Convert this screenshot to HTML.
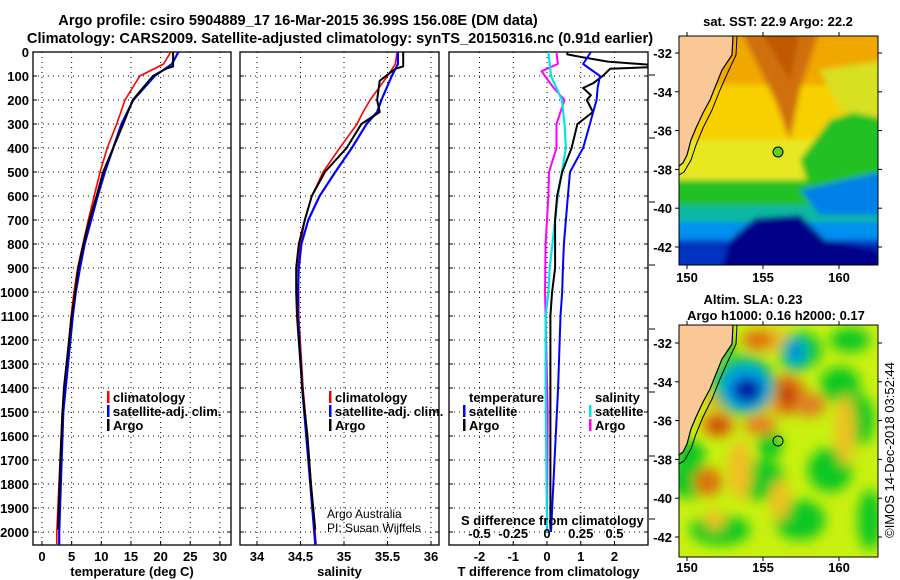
<!DOCTYPE html>
<html><head><meta charset="utf-8">
<style>
html,body{margin:0;padding:0;background:#fff;}
svg{display:block;font-family:"Liberation Sans",Arial,sans-serif;}
.b{font-weight:bold;font-size:13px;}
</style></head>
<body>
<svg id="chart" width="900" height="580" viewBox="0 0 900 580">
<defs>
<filter id="blur3" x="-10%" y="-10%" width="120%" height="120%"><feGaussianBlur stdDeviation="3"/></filter>
<filter id="blur6" x="-20%" y="-20%" width="140%" height="140%"><feGaussianBlur stdDeviation="6"/></filter>
<clipPath id="cp1"><rect x="33" y="52" width="198" height="493"/></clipPath>
<clipPath id="cp2"><rect x="240" y="52" width="199" height="493"/></clipPath>
<clipPath id="cp3"><rect x="449" y="52" width="199" height="493"/></clipPath>
<clipPath id="cm1"><rect x="679" y="36" width="199" height="229"/></clipPath>
<clipPath id="cm2"><rect x="679" y="325" width="199" height="232"/></clipPath>
</defs>
<text x="298" y="25" text-anchor="middle" class="b" style="font-size:14.6px">Argo profile: csiro 5904889_17 16-Mar-2015 36.99S 156.08E (DM data)</text>
<text x="340" y="43" text-anchor="middle" class="b" style="font-size:14.6px">Climatology: CARS2009. Satellite-adjusted climatology: synTS_20150316.nc (0.91d earlier)</text>
<g id="panels"></g>
<g id="maps"></g>
</svg>
<script>
// ---- data ----
const depthTicks = [0,100,200,300,400,500,600,700,800,900,1000,1100,1200,1300,1400,1500,1600,1700,1800,1900,2000];
const tTicks = [0,5,10,15,20,25,30];
const sTicks = [34,34.5,35,35.5,36];
const dTTicks = [-2,-1,0,1,2];
const dSTicks = [-0.5,-0.25,0,0.25,0.5];
const dSTickLabels = ["-0.5","-0.25","0","0.25","0.5"];

const tempDepth = [0,50,100,200,300,400,500,600,700,800,900,1000,1100,1500,2000,2054];
const tempClim  = [21.7,20.5,16.5,14.0,12.6,11.0,9.8,8.8,7.8,6.9,6.0,5.4,4.9,3.4,2.5,2.5];
const tempSat   = [23.0,21.9,19.0,15.4,13.4,12.0,10.6,9.4,8.3,7.2,6.4,5.7,5.2,3.6,2.9,2.9];
const argoDepth = [0,60,70,100,200,300,400,500,600,700,800,900,1000,1100,1400,1500,1700,1990];
const tempArgo  = [22.1,22.1,20.9,18.7,15.3,13.7,12.0,10.3,9.2,8.0,7.0,6.1,5.6,5.0,3.7,3.45,3.1,2.7];

const salDepth = [0,50,100,200,250,300,400,500,600,700,800,900,1000,1100,1400,1700,2054];
const salClim  = [35.61,35.59,35.50,35.30,35.22,35.15,34.95,34.76,34.63,34.55,34.50,34.47,34.48,34.48,34.53,34.60,34.68];
const salSat   = [35.62,35.62,35.55,35.43,35.38,35.26,35.09,34.90,34.72,34.59,34.51,34.48,34.47,34.47,34.52,34.59,34.67];
const salArgoDepth = [0,60,70,120,200,250,300,400,500,600,700,800,900,1000,1100,1400,1600,1800,1990];
const salArgo  = [35.68,35.68,35.59,35.41,35.38,35.41,35.20,35.03,34.78,34.63,34.55,34.48,34.45,34.45,34.46,34.52,34.58,34.62,34.67];

const dTArgoDepth = [0,10,20,40,55,62,70,100,130,150,180,200,250,300,400,500,600,700,800,900,1000,1100,1500,1990];
const dTArgo = [0.6,0.6,0.98,1.8,3.2,3.2,1.87,1.65,1.37,1.07,1.3,1.18,1.36,0.9,0.73,0.45,0.3,0.24,0.24,0.24,0.15,0.1,0.1,0.1];
const dTSatDepth = [0,50,100,150,200,250,300,400,500,600,700,800,900,1000,1100,1400,2000];
const dTSat = [1.3,1.07,1.57,1.5,1.47,1.37,1.27,1.07,0.68,0.62,0.56,0.5,0.47,0.45,0.4,0.33,0.12];
const dSArgoDepth = [0,50,80,120,150,200,300,400,500,600,800,1000,1100,1500,1990];
const dSArgo = [0.07,0.08,-0.04,0.01,0.05,0.13,0.07,0.07,0.015,0.01,-0.01,-0.015,-0.01,0.005,0.0];
const dSSatDepth = [0,100,200,300,400,500,600,700,800,900,1000,1100,1400,2000];
const dSSat = [0.01,0.03,0.11,0.13,0.14,0.11,0.08,0.06,0.04,0.02,0.01,-0.01,-0.01,0.0];

const mapLonTicks = [150,155,160];
const mapLatTicks = [-32,-34,-36,-38,-40,-42];

// ---- scales ----
const Y0=52, Y1=545;
const yD = d => 52 + d*0.24;
const xT = t => 42 + t*5.93;
const xS = s => 257 + (s-34)*87;
const xDT = v => 547 + v*33.75;
const xDS = v => 547 + v*135;
const lonX = l => 687 + (l-150)*15.2;
const latY1 = la => 53 + (-32-la)*19.4;
const latY2 = la => 343 + (-32-la)*19.4;

const NS="http://www.w3.org/2000/svg";
function mk(tag, attrs, parent){const e=document.createElementNS(NS,tag);for(const k in attrs)e.setAttribute(k,attrs[k]);parent.appendChild(e);return e;}
const P=document.getElementById('panels');

function line(xs, ds, xf, color, w, parent, name){
  let d='';
  xs.forEach((v,i)=>{d+=(i?'L':'M')+xf(v).toFixed(1)+','+yD(ds[i]).toFixed(1);});
  const p=mk('path',{d:d,fill:'none',stroke:color,'stroke-width':w,'stroke-linejoin':'round'},parent);
  
  
}

function panel(x0,x1,clip,name,ticks,xf,labels,title){
  const g=mk('g',{},P);
  
  
  depthTicks.forEach(d=>{
    mk('line',{x1:x0,x2:x1,y1:yD(d),y2:yD(d),stroke:'#000','stroke-width':1,'stroke-dasharray':'1,4'},g);
    mk('line',{x1:x0,x2:x0+4,y1:yD(d),y2:yD(d),stroke:'#000'},g);
    mk('line',{x1:x1-4,x2:x1,y1:yD(d),y2:yD(d),stroke:'#000'},g);
  });
  ticks.forEach((t,i)=>{
    const x=xf(t);
    mk('line',{x1:x,x2:x,y1:Y0,y2:Y1,stroke:'#000','stroke-width':1,'stroke-dasharray':'1,4'},g);
    mk('line',{x1:x,x2:x,y1:Y1-4,y2:Y1,stroke:'#000'},g);
    const tx=mk('text',{x:x,y:561,'text-anchor':'middle',class:'b'},g);
    tx.textContent=labels?labels[i]:String(t);
    
    
  });
  mk('rect',{x:x0,y:Y0,width:x1-x0,height:Y1-Y0,fill:'none',stroke:'#000','stroke-width':1.3},g);
  const tt=mk('text',{x:(x0+x1)/2,y:576,'text-anchor':'middle',class:'b'},g);
  tt.textContent=title;
  
  
  const lg=mk('g',{'clip-path':'url(#'+clip+')'},g);
  return lg;
}
depthTicks.forEach(d=>{
  const t=mk('text',{x:29,y:yD(d)+5,'text-anchor':'end',class:'b'},P);
  t.textContent=String(d);
  
  
});

const g1=panel(33,231,'cp1','temperature-panel',tTicks,xT,null,'temperature (deg C)');
line(tempClim,tempDepth,xT,'#ff0000',1.6,g1,'temp-climatology-line');
line(tempSat,tempDepth,xT,'#0000ff',2.2,g1,'temp-satellite-line');
line(tempArgo,argoDepth,xT,'#000000',2,g1,'temp-argo-line');

const g2=panel(240,439,'cp2','salinity-panel',sTicks,xS,["34","34.5","35","35.5","36"],'salinity');
line(salClim,salDepth,xS,'#ff0000',1.6,g2,'sal-climatology-line');
line(salSat,salDepth,xS,'#0000ff',2.2,g2,'sal-satellite-line');
line(salArgo,salArgoDepth,xS,'#000000',2,g2,'sal-argo-line');

const g3=panel(449,648,'cp3','difference-panel',dTTicks,xDT,null,'T difference from climatology');
line(dSArgo,dSArgoDepth,xDS,'#ff00ff',2,g3,'sdiff-argo-line');
line(dSSat,dSSatDepth,xDS,'#00e5e5',2.2,g3,'sdiff-satellite-line');
line(dTArgo,dTArgoDepth,xDT,'#000000',2,g3,'tdiff-argo-line');
line(dTSat,dTSatDepth,xDT,'#0000ff',2,g3,'tdiff-satellite-line');
dSTicks.forEach((s,i)=>{
  const t=mk('text',{x:xDS(s),y:538,'text-anchor':'middle',class:'b'},P);
  t.textContent=dSTickLabels[i];
  
  
});
[75,138,202,265,329,392,456,519].forEach(y=>mk('line',{x1:649,x2:655,y1:y,y2:y,stroke:'#000'},P));

function legendEntry(x,y,color,label,name){
  const g=mk('g',{},P);
  
  
  if(color) mk('rect',{x:x-6,y:y-11,width:2.5,height:12,fill:color},g);
  const t=mk('text',{x:x,y:y,class:'b'},g);
  t.textContent=label;
}
legendEntry(113,402,'#ff0000','climatology','legend-temp-climatology');
legendEntry(113,416,'#0000ff','satellite-adj. clim.','legend-temp-satellite');
legendEntry(113,430,'#000000','Argo','legend-temp-argo');
legendEntry(335,402,'#ff0000','climatology','legend-sal-climatology');
legendEntry(335,416,'#0000ff','satellite-adj. clim.','legend-sal-satellite');
legendEntry(335,430,'#000000','Argo','legend-sal-argo');
legendEntry(469,402,null,'temperature','legend-temperature-header');
legendEntry(469,416,'#0000ff','satellite','legend-tdiff-satellite');
legendEntry(469,430,'#000000','Argo','legend-tdiff-argo');
legendEntry(595,402,null,'salinity','legend-salinity-header');
legendEntry(595,416,'#00e5e5','satellite','legend-sdiff-satellite');
legendEntry(595,430,'#ff00ff','Argo','legend-sdiff-argo');
</script>
<script>
const M=document.getElementById('maps');
let t=mk('text',{x:327,y:518,'font-size':'12px'},M);t.textContent='Argo Australia';


t=mk('text',{x:327,y:532,'font-size':'12px'},M);t.textContent='PI: Susan Wijffels';


t=mk('text',{x:461,y:525,class:'b'},M);t.textContent='S difference from climatology';



function landPath(dy){
  return `M679,${36+dy} L733,${36+dy} L732,${55+dy} L722,${70+dy} L716,${85+dy} L710,${100+dy} L703,${113+dy} L696,${128+dy} L691,${140+dy} L687,${155+dy} L683,${163+dy} L679,${166+dy} Z`;
}
function mapFrame(x0,y0,w,h,latY,name,labY){
  const g=mk('g',{},M);
  
  
  mapLonTicks.forEach(l=>{
    const x=lonX(l);
    mk('line',{x1:x,x2:x,y1:y0-4,y2:y0,stroke:'#000'},g);
    mk('line',{x1:x,x2:x,y1:y0+h,y2:y0+h+4,stroke:'#000'},g);
    const tx=mk('text',{x:x,y:labY,'text-anchor':'middle',class:'b'},g);tx.textContent=String(l);
    
    
  });
  mapLatTicks.forEach(la=>{
    const y=latY(la);
    mk('line',{x1:x0-4,x2:x0,y1:y,y2:y,stroke:'#000'},g);
    mk('line',{x1:x0+w,x2:x0+w+4,y1:y,y2:y,stroke:'#000'},g);
    const tx=mk('text',{x:672,y:y+5,'text-anchor':'end',class:'b'},g);tx.textContent=String(la);
    
    
  });
  mk('rect',{x:x0,y:y0,width:w,height:h,fill:'none',stroke:'#000','stroke-width':1},g);
}
const m1=mk('g',{'clip-path':'url(#cm1)'},M);


const b1=mk('g',{filter:'url(#blur3)'},m1);
[['#f0a800',20,85],['#f8d000',85,140],['#e8e820',140,180],['#20c020',180,205],['#10b8a0',205,222],['#0090f0',222,240],['#0030c0',240,275]].forEach(([c,a,b])=>mk('rect',{x:670,y:a,width:220,height:b-a,fill:c},b1));
mk('polygon',{points:'740,30 820,30 800,90 790,140 775,100',fill:'#d07010'},b1);
mk('polygon',{points:'760,30 800,30 790,80',fill:'#c05800'},b1);
mk('polygon',{points:'830,120 890,100 890,190 810,190 800,160',fill:'#20c020'},b1);
mk('polygon',{points:'820,70 890,60 890,120 840,110',fill:'#d8e020'},b1);
mk('polygon',{points:'720,275 730,240 755,218 800,215 825,240 880,250 880,275',fill:'#000088'},b1);
mk('polygon',{points:'800,190 890,170 890,215 820,215',fill:'#0080e8'},b1);
mk('path',{d:landPath(0),fill:'#fac896'},m1);
mk('path',{d:'M733,36 L732,55 L722,70 L716,85 L710,100 L703,113 L696,128 L691,140 L687,155 L683,163 L679,166',fill:'none',stroke:'#000','stroke-width':1.2},m1);
mk('path',{d:'M737,36 L736,55 L728,72 L720,90 L712,110 L703,128 L696,145 L691,160 L684,172 L679,175',fill:'none',stroke:'#000','stroke-width':1},m1);
let c=mk('circle',{cx:778,cy:152,r:5,fill:'#60d020',stroke:'#000','stroke-width':1},m1);


mapFrame(679,36,199,229,latY1,'sst-map-axes',282);
t=mk('text',{x:778,y:26,'text-anchor':'middle',class:'b'},M);t.textContent='sat. SST: 22.9 Argo: 22.2';



const m2=mk('g',{'clip-path':'url(#cm2)'},M);


mk('rect',{x:679,y:325,width:199,height:232,fill:'#c8f010'},m2);
const b2=mk('g',{filter:'url(#blur6)'},m2);
[[690,480,22,18],[760,480,25,20],[830,470,22,22],[720,530,30,15],[800,520,25,20],[860,420,14,25],[840,385,20,18],[690,455,15,15],[770,445,12,15],[720,345,15,12],[800,350,22,18],[850,340,20,12],[870,520,12,30]].forEach(([x,y,rx,ry])=>mk('ellipse',{cx:x,cy:y,rx:rx,ry:ry,fill:'#10c820'},b2));
[[770,340,25,12],[845,430,10,35],[740,470,12,30],[780,500,10,20],[715,520,10,10]].forEach(([x,y,rx,ry])=>mk('ellipse',{cx:x,cy:y,rx:rx,ry:ry,fill:'#f0c020'},b2));
[[718,425,16,12,'#e07010'],[708,482,14,14,'#e07010'],[760,425,16,10,'#e88020'],[758,340,16,10,'#e07010'],[786,395,20,20,'#e07010'],[810,405,16,12,'#e08020'],[745,400,40,12,'#f0a020']].forEach(([x,y,rx,ry,f])=>mk('ellipse',{cx:x,cy:y,rx:rx,ry:ry,fill:f},b2));
mk('ellipse',{cx:744,cy:385,rx:32,ry:30,fill:'#10c060'},b2);
mk('ellipse',{cx:746,cy:388,rx:24,ry:22,fill:'#00a0f0'},b2);
mk('ellipse',{cx:747,cy:390,rx:15,ry:13,fill:'#0010a0'},b2);
mk('ellipse',{cx:796,cy:353,rx:16,ry:20,fill:'#10c060'},b2);
mk('ellipse',{cx:796,cy:352,rx:10,ry:13,fill:'#00b0e0'},b2);
mk('ellipse',{cx:796,cy:351,rx:4,ry:7,fill:'#0040d0'},b2);
mk('ellipse',{cx:786,cy:396,rx:7,ry:10,fill:'#b02000'},b2);
mk('ellipse',{cx:718,cy:426,rx:6,ry:6,fill:'#b02000'},b2);
mk('path',{d:landPath(289),fill:'#fac896'},m2);
mk('path',{d:'M733,325 L732,344 L722,359 L716,374 L710,389 L703,402 L696,417 L691,429 L687,444 L683,452 L679,455',fill:'none',stroke:'#000','stroke-width':1.2},m2);
mk('path',{d:'M737,325 L736,344 L728,361 L720,379 L712,399 L703,417 L696,434 L691,449 L684,461 L679,464',fill:'none',stroke:'#000','stroke-width':1},m2);
c=mk('circle',{cx:778,cy:441,r:5,fill:'none',stroke:'#000','stroke-width':1},m2);


mapFrame(679,325,199,232,latY2,'sla-map-axes',572);
t=mk('text',{x:753,y:304,'text-anchor':'middle',class:'b'},M);t.textContent='Altim. SLA: 0.23';


t=mk('text',{x:776,y:320,'text-anchor':'middle',class:'b'},M);t.textContent='Argo h1000: 0.16 h2000: 0.17';


t=mk('text',{x:0,y:0,'text-anchor':'middle','font-size':'13px',transform:'translate(894,450) rotate(-90)'},M);t.textContent='©IMOS 14-Dec-2018 03:52:44';


</script>
</body></html>
